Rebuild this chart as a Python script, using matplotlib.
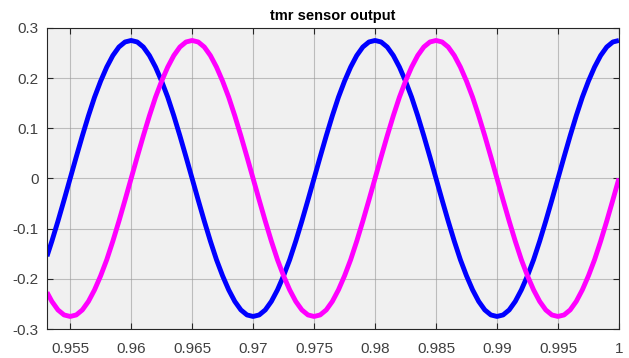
import numpy as np
import matplotlib.pyplot as plt

# sample times (s): first sample at left edge, then 0.5 ms steps
t = np.concatenate([[0.9531], np.round(np.arange(0.9535, 1.00001, 0.0005), 4)])

# tmr sensor outputs
cycle = [0.043, 0.085, 0.125, 0.162, 0.194, 0.222, 0.245, 0.262, 0.272, 0.275,
         0.272, 0.262, 0.245, 0.222, 0.194, 0.162, 0.125, 0.085, 0.043, 0.0,
         -0.043, -0.085, -0.125, -0.162, -0.194, -0.222, -0.245, -0.262, -0.272, -0.275,
         -0.272, -0.262, -0.245, -0.222, -0.194, -0.162, -0.125, -0.085, -0.043, 0.0]

magenta = [-0.227,
           -0.245, -0.262, -0.272, -0.275, -0.272, -0.262, -0.245, -0.222, -0.194, -0.162,
           -0.125, -0.085, -0.043, 0.0] + cycle + cycle

blue = [-0.155,
        -0.125, -0.085, -0.043, 0.0] + cycle + cycle + cycle[:10]

xticks = [0.955, 0.96, 0.965, 0.97, 0.975, 0.98, 0.985, 0.99, 0.995, 1.0]
xlabels = ['0.955', '0.96', '0.965', '0.97', '0.975', '0.98', '0.985', '0.99', '0.995', '1']
yticks = [-0.3, -0.2, -0.1, 0, 0.1, 0.2, 0.3]
ylabels = ['-0.3', '-0.2', '-0.1', '0', '0.1', '0.2', '0.3']

plt.rcParams['font.family'] = ['Liberation Sans', 'DejaVu Sans']

fig = plt.figure(figsize=(6.29, 3.58), dpi=100)
ax = fig.add_axes([0.0747, 0.081, 0.9093, 0.841])
ax.set_facecolor('#f0f0f0')

ax.plot(t, blue, color=(0, 0, 1), lw=3.5, solid_capstyle='butt')
ax.plot(t, magenta, color=(1, 0, 1), lw=3.5, solid_capstyle='butt')

ax.set_xlim(0.9531, 1.0)
ax.set_ylim(-0.3, 0.3)
ax.set_xticks(xticks)
ax.set_xticklabels(xlabels)
ax.set_yticks(yticks)
ax.set_yticklabels(ylabels)
ax.tick_params(direction='in', top=True, right=True, length=4, width=0.8,
               labelsize=11, colors='#262626', labelcolor='#404040')
ax.tick_params(axis='x', pad=9)
ax.tick_params(axis='y', pad=6)
ax.grid(True, color='#9a9a9a', lw=0.8, alpha=0.6)
for s in ax.spines.values():
    s.set_color('#262626')
    s.set_linewidth(0.8)

ax.set_title('tmr sensor output', fontsize=10.5, fontweight='bold', pad=6)

fig.savefig('out.png', dpi=100)
